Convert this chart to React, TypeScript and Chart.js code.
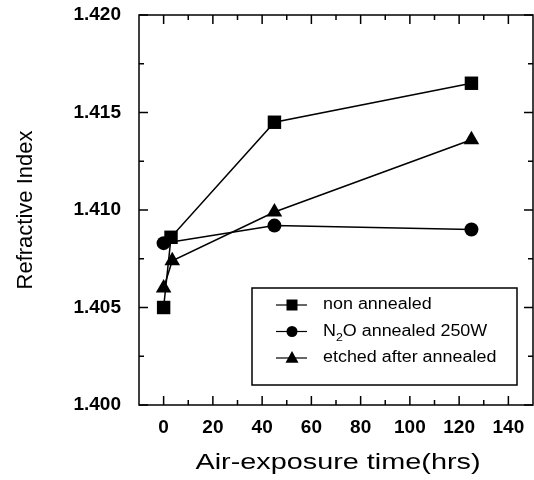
import React, { useEffect, useRef } from "react";
import { Chart, registerables } from "chart.js";

Chart.register(...registerables);

const seriesLabels = ["non annealed", "N2O annealed 250W", "etched after annealed"];
const nonAnnealedHours = [0, 3, 45, 125];
const nonAnnealedIndex = [1.405, 1.4086, 1.4145, 1.4165];
const n2oHours = [0, 45, 125];
const n2oIndex = [1.4083, 1.4092, 1.409];
const etchedHours = [0, 3.5, 45, 125];
const etchedIndex = [1.406, 1.4074, 1.4099, 1.4136];

const xTickValues = [0, 20, 40, 60, 80, 100, 120, 140];
const xMinorValues = [10, 30, 50, 70, 90, 110, 130];
const yTickValues = [1.4, 1.405, 1.41, 1.415, 1.42];
const yMinorValues = [1.4025, 1.4075, 1.4125, 1.4175];

const xTitle = "Air-exposure time(hrs)";
const yTitle = "Refractive Index";

const FONT = '"Liberation Sans", Arial, Helvetica, sans-serif';

const toPoints = (xs: number[], ys: number[]) => xs.map((x, i) => ({ x, y: ys[i] }));

function drawMarker(ctx: CanvasRenderingContext2D, style: string, cx: number, cy: number, s: number) {
  ctx.beginPath();
  if (style === "rect") {
    ctx.rect(cx - s / 2, cy - s / 2, s, s);
  } else if (style === "circle") {
    ctx.arc(cx, cy, s / 2, 0, Math.PI * 2);
  } else {
    const h = s * 0.9;
    ctx.moveTo(cx, cy - h * 0.6);
    ctx.lineTo(cx + s / 2, cy + h * 0.4);
    ctx.lineTo(cx - s / 2, cy + h * 0.4);
    ctx.closePath();
  }
  ctx.fill();
}

const framePlugin = {
  id: "frameTicks",
  afterDraw(chart: any) {
    const { ctx, chartArea: a, scales } = chart;
    const x = scales.x;
    const y = scales.y;
    ctx.save();
    ctx.strokeStyle = "#000";
    ctx.lineWidth = 1.5;
    ctx.strokeRect(a.left, a.top, a.right - a.left, a.bottom - a.top);
    ctx.lineWidth = 1.5;
    const major = 9;
    const minor = 5;
    const vt = (v: number, len: number) => {
      const px = x.getPixelForValue(v);
      ctx.beginPath();
      ctx.moveTo(px, a.bottom);
      ctx.lineTo(px, a.bottom - len);
      ctx.moveTo(px, a.top);
      ctx.lineTo(px, a.top + len);
      ctx.stroke();
    };
    const ht = (v: number, len: number) => {
      const py = y.getPixelForValue(v);
      ctx.beginPath();
      ctx.moveTo(a.left, py);
      ctx.lineTo(a.left + len, py);
      ctx.moveTo(a.right, py);
      ctx.lineTo(a.right - len, py);
      ctx.stroke();
    };
    xTickValues.forEach((v) => vt(v, major));
    xMinorValues.forEach((v) => vt(v, minor));
    yTickValues.forEach((v) => ht(v, major));
    yMinorValues.forEach((v) => ht(v, minor));

    // axis titles
    ctx.fillStyle = "#000";
    ctx.textAlign = "center";
    ctx.textBaseline = "middle";
    ctx.font = `22px ${FONT}`;
    ctx.save();
    ctx.translate(338, 463);
    ctx.scale(1.31, 1);
    ctx.fillText(xTitle, 0, 0);
    ctx.restore();
    ctx.save();
    ctx.translate(26, (a.top + a.bottom) / 2);
    ctx.rotate(-Math.PI / 2);
    ctx.fillText(yTitle, 0, 0);
    ctx.restore();

    // legend
    const bx = 252, by = 288, bw = 265, bh = 97;
    ctx.lineWidth = 1.5;
    ctx.strokeRect(bx, by, bw, bh);
    const rows = [305, 331.5, 358];
    const styles = ["rect", "circle", "triangle"];
    const sizes = [11, 11, 13];
    rows.forEach((ry, i) => {
      ctx.lineWidth = 1.2;
      ctx.beginPath();
      ctx.moveTo(276, ry);
      ctx.lineTo(307, ry);
      ctx.stroke();
      drawMarker(ctx, styles[i], 292, ry, sizes[i]);
      ctx.save();
      ctx.translate(323, ry);
      ctx.scale(1.12, 1);
      ctx.textAlign = "left";
      ctx.textBaseline = "middle";
      ctx.font = `16px ${FONT}`;
      if (i === 1) {
        const label = seriesLabels[1];
        const first = label.slice(0, 1);
        const sub = label.slice(1, 2);
        const rest = label.slice(2);
        ctx.fillText(first, 0, 0);
        let off = ctx.measureText(first).width;
        ctx.font = `11px ${FONT}`;
        ctx.fillText(sub, off, 6);
        off += ctx.measureText(sub).width;
        ctx.font = `16px ${FONT}`;
        ctx.fillText(rest, off, 0);
      } else {
        ctx.fillText(seriesLabels[i], 0, 0);
      }
      ctx.restore();
    });
    ctx.restore();
  },
};

export default function App() {
  const ref = useRef<HTMLCanvasElement | null>(null);
  useEffect(() => {
    if (!ref.current) return;
    const tickFont = { family: FONT, size: 19, weight: "bold" as const };
    const ds = (label: string, xs: number[], ys: number[], style: string, r: number) => ({
      label,
      data: toPoints(xs, ys),
      showLine: true,
      borderColor: "#000",
      backgroundColor: "#000",
      borderWidth: 1.5,
      pointStyle: style,
      pointRadius: r,
      pointBorderWidth: 0,
      pointBackgroundColor: "#000",
      clip: false as any,
    });
    const chart = new Chart(ref.current, {
      type: "scatter",
      data: {
        datasets: [
          ds(seriesLabels[0], nonAnnealedHours, nonAnnealedIndex, "rect", 9.5),
          ds(seriesLabels[1], n2oHours, n2oIndex, "circle", 7),
          ds(seriesLabels[2], etchedHours, etchedIndex, "triangle", 9),
        ],
      },
      options: {
        animation: false,
        responsive: false,
        devicePixelRatio: 1,
        layout: { autoPadding: false, padding: { top: 15, right: 1, left: 0, bottom: 0 } },
        plugins: { legend: { display: false }, tooltip: { enabled: false } },
        scales: {
          x: {
            type: "linear",
            min: -10,
            max: 150,
            grid: { display: false, drawTicks: false },
            border: { display: false },
            afterBuildTicks: (s: any) => {
              s.ticks = xTickValues.map((v) => ({ value: v }));
            },
            afterFit: (s: any) => {
              s.height = 75;
              s.paddingLeft = 0;
              s.paddingRight = 0;
              s.paddingTop = 0;
              s.paddingBottom = 0;
            },
            ticks: {
              padding: 11,
              color: "#000",
              font: tickFont,
              maxRotation: 0,
              autoSkip: false,
              callback: (v: any) => String(v),
            },
          },
          y: {
            type: "linear",
            min: 1.4,
            max: 1.42,
            grid: { display: false, drawTicks: false },
            border: { display: false },
            afterBuildTicks: (s: any) => {
              s.ticks = yTickValues.map((v) => ({ value: v }));
            },
            afterFit: (s: any) => {
              s.width = 139;
              s.paddingLeft = 0;
              s.paddingRight = 0;
              s.paddingTop = 0;
              s.paddingBottom = 0;
            },
            ticks: {
              padding: 18,
              color: "#000",
              font: tickFont,
              autoSkip: false,
              callback: (v: any) => Number(v).toFixed(3),
            },
          },
        },
      },
      plugins: [framePlugin],
    });
    return () => chart.destroy();
  }, []);
  return (
    <div style={{ position: "absolute", left: 0, top: 0, width: 534, height: 480, background: "#fff" }}>
      <canvas ref={ref} width={534} height={480} style={{ display: "block" }} />
    </div>
  );
}
